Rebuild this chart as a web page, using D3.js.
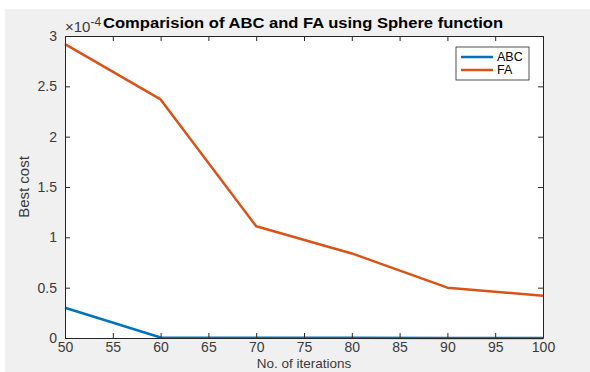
<!DOCTYPE html>
<html>
<head>
<meta charset="utf-8">
<script src="https://cdn.jsdelivr.net/npm/d3@7"></script>
<style>
  html, body { margin: 0; padding: 0; background: #ffffff; }
  svg { display: block; }
</style>
</head>
<body>
<svg id="chart" width="590" height="372"></svg>
<script>
// Iteration counts and best cost (units of 1e-4) per algorithm
const iterations = [50, 60, 70, 80, 90, 100];
const abcCost = [0.30, 0.005, 0.003, 0.002, 0.001, 0.001];
const faCost = [2.92, 2.37, 1.11, 0.84, 0.50, 0.42];
const xTicks = [50, 55, 60, 65, 70, 75, 80, 85, 90, 95, 100];
const yTicks = [0, 0.5, 1, 1.5, 2, 2.5, 3];
const seriesNames = ["ABC", "FA"];
const seriesColors = ["#0072BD", "#D95319"];

const svg = d3.select("#chart");
const m = { left: 65, right: 543, top: 36, bottom: 338 };
const font = "'Liberation Sans', Arial, sans-serif";

const x = d3.scaleLinear().domain([50, 100]).range([m.left, m.right]);
const y = d3.scaleLinear().domain([0, 3]).range([m.bottom, m.top]);

// figure background
svg.append("rect")
  .attr("x", 5).attr("y", 9).attr("width", 585).attr("height", 363)
  .attr("fill", "#f0f0f0");

// plot background
svg.append("rect")
  .attr("x", m.left).attr("y", m.top)
  .attr("width", m.right - m.left).attr("height", m.bottom - m.top)
  .attr("fill", "#ffffff");

// series lines
const line = d3.line().x((d, i) => x(iterations[i])).y(d => y(d));
[abcCost, faCost].forEach((vals, k) => {
  svg.append("path")
    .datum(vals)
    .attr("d", line)
    .attr("fill", "none")
    .attr("stroke", seriesColors[k])
    .attr("stroke-width", 2.5)
    .attr("stroke-linejoin", "round");
});

// axes with inward ticks on all four sides
const axisColor = "#262626";
const labelColor = "#3a3a3a";
const tickLen = 5;
const styleAxis = g => {
  g.select(".domain").attr("stroke", axisColor).attr("stroke-width", 1);
  g.selectAll(".tick line").attr("stroke", axisColor);
  g.selectAll("text").attr("fill", labelColor).attr("font-family", font).attr("font-size", 14);
};

svg.append("g")
  .attr("transform", `translate(0,${m.bottom})`)
  .call(d3.axisBottom(x).tickValues(xTicks).tickSizeInner(-tickLen).tickSizeOuter(0).tickPadding(4).tickFormat(d3.format("d")))
  .call(styleAxis);

svg.append("g")
  .attr("transform", `translate(0,${m.top})`)
  .call(d3.axisTop(x).tickValues(xTicks).tickSizeInner(-tickLen).tickSizeOuter(0).tickFormat(""))
  .call(styleAxis);

svg.append("g")
  .attr("transform", `translate(${m.left},0)`)
  .call(d3.axisLeft(y).tickValues(yTicks).tickSizeInner(-tickLen).tickSizeOuter(0).tickPadding(8).tickFormat(d => d3.format("")(d)))
  .call(styleAxis);

svg.append("g")
  .attr("transform", `translate(${m.right},0)`)
  .call(d3.axisRight(y).tickValues(yTicks).tickSizeInner(-tickLen).tickSizeOuter(0).tickFormat(""))
  .call(styleAxis);

// exponent marker
const expo = svg.append("text")
  .attr("x", m.left).attr("y", 32)
  .attr("font-family", font).attr("font-size", 15).attr("fill", labelColor);
expo.append("tspan").text("\u00d710");
expo.append("tspan").attr("dy", -6).attr("font-size", 12).text("-4");

// title
svg.append("text")
  .attr("x", 103).attr("y", 28)
  .attr("textLength", 400).attr("lengthAdjust", "spacingAndGlyphs")
  .attr("font-family", font).attr("font-weight", "bold").attr("font-size", 14.5)
  .attr("fill", "#000")
  .text("Comparision of ABC and FA using Sphere function");

// axis labels
svg.append("text")
  .attr("x", (m.left + m.right) / 2).attr("y", 368)
  .attr("text-anchor", "middle")
  .attr("font-family", font).attr("font-size", 13.5).attr("fill", labelColor)
  .text("No. of iterations");

svg.append("text")
  .attr("transform", `translate(29,${(m.top + m.bottom) / 2}) rotate(-90)`)
  .attr("text-anchor", "middle")
  .attr("font-family", font).attr("font-size", 15).attr("fill", labelColor)
  .text("Best cost");

// legend
const lg = svg.append("g").attr("transform", "translate(456,47)");
lg.append("rect").attr("width", 73).attr("height", 33)
  .attr("fill", "#fff").attr("stroke", "#262626").attr("stroke-width", 0.8);
seriesNames.forEach((name, i) => {
  const yy = 10 + i * 13;
  lg.append("line").attr("x1", 5).attr("x2", 37).attr("y1", yy).attr("y2", yy)
    .attr("stroke", seriesColors[i]).attr("stroke-width", 2.5);
  lg.append("text").attr("x", 41).attr("y", yy + 4)
    .attr("font-family", font).attr("font-size", 12.5).attr("fill", "#000")
    .text(name);
});
</script>
</body>
</html>
